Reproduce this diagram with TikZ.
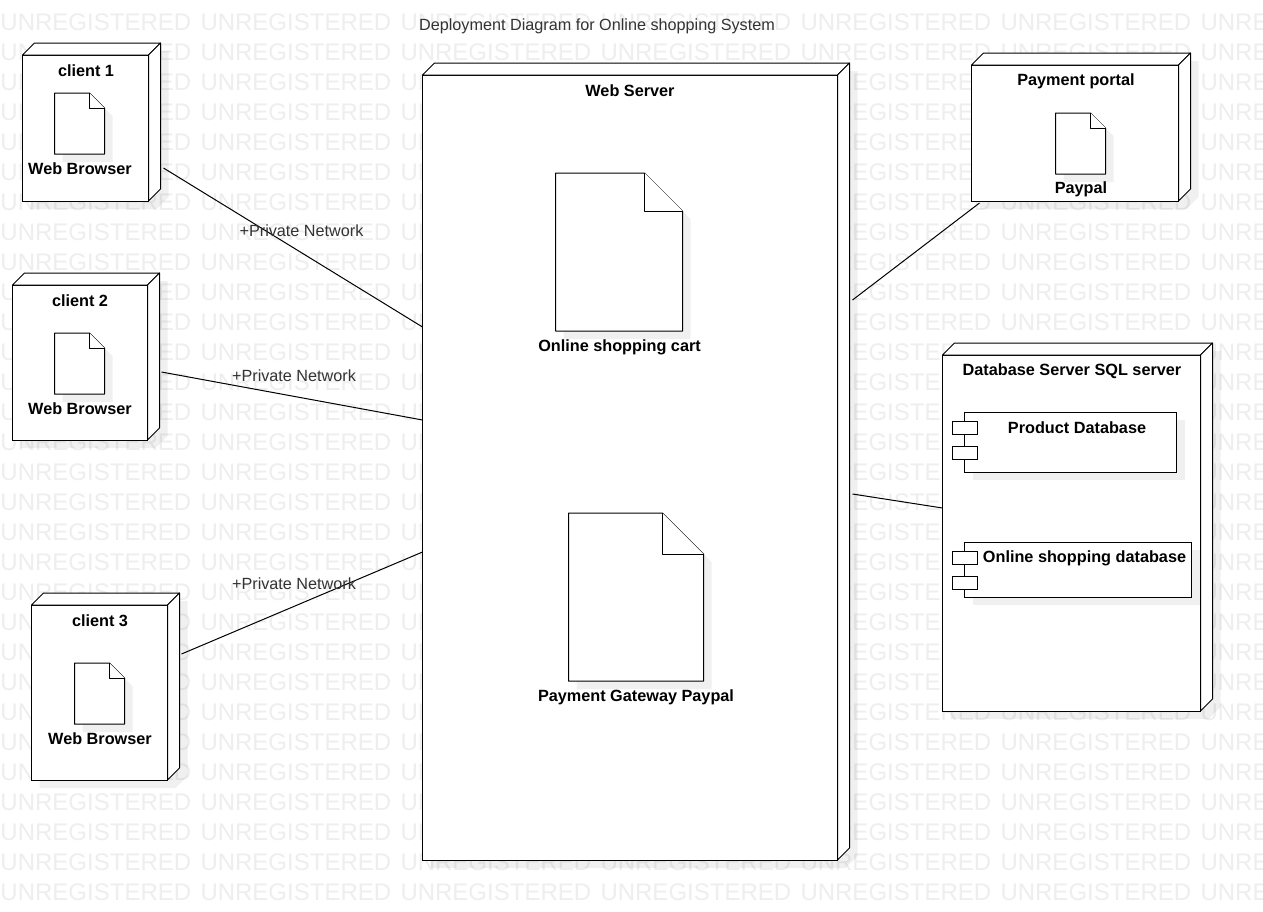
\documentclass[tikz,border=0pt]{standalone}
\usepackage{fontspec}
\setmainfont{Liberation Sans}
\usetikzlibrary{calc, positioning}
\definecolor{wmgray}{RGB}{238,238,238}
\definecolor{inkgray}{RGB}{51,51,51}
\tikzset{
    devnode/.style={draw=black, fill=white, line width=1pt, inner sep=0pt, outer sep=0pt, anchor=north west},
    docnode/.style={inner sep=0pt, outer sep=0pt, anchor=north west},
    portnode/.style={draw=black, fill=white, line width=1pt, inner sep=0pt, outer sep=0pt, anchor=north west,
      minimum width=25pt, minimum height=13pt},
    softshadow/.style={fill=black, opacity=0.06},
    devline/.style={draw=black, fill=white, line width=1pt, line join=round},
    devlabel/.style={inner sep=0pt, yshift=-1pt, font=\fontsize{16.25}{19}\selectfont\bfseries},
    netlabel/.style={inner sep=0pt, yshift=-1pt, text=inkgray, font=\fontsize{16.2}{19}\selectfont},
    netlink/.style={draw=black, line width=1pt},
    watermark/.style={inner sep=0pt, anchor=base west, text=wmgray, font=\fontsize{24}{28}\selectfont},
}
\newcommand{\devbox}[5]{
    \fill[softshadow] (#2+8,#3+8) -- ++(12,-12) -- ++(#4,0) -- ++(0,#5) -- ++(-12,12) -- ++(-#4,0) -- cycle;
    \node[devnode, minimum width=#4pt, minimum height=#5pt] (#1) at (#2,#3) {};
    \draw[devline] (#1.north west) -- ++(12,-12) -- ++(#4,0) -- (#1.north east) -- cycle;
    \draw[devline] (#1.north east) -- ++(12,-12) -- ++(0,#5) -- (#1.south east) -- cycle;
}
\newcommand{\docbox}[6]{
    \fill[softshadow] (#2+8,#3+8) -- ++(#4-#6,0) -- ++(#6,#6) -- ++(0,#5-#6) -- ++(-#4,0) -- cycle;
    \node[docnode, minimum width=#4pt, minimum height=#5pt] (#1) at (#2,#3) {};
    \draw[devline] (#1.north west) -- ++(#4-#6,0) -- ++(#6,#6) -- (#1.south east) -- (#1.south west) -- cycle;
    \draw[devline] (#2+#4-#6,#3) -- ++(0,#6) -- ++(#6,0);
}
\newcommand{\compbox}[7]{
    \fill[softshadow] (#2+8,#3+8) rectangle ++(#4,#5);
    \node[devnode, minimum width=#4pt, minimum height=#5pt] (#1) at (#2,#3) {};
    \node[portnode] (#1a) at (#2-12.5,#6) {};
    \node[portnode] (#1b) at (#2-12.5,#7) {};
}
\begin{document}
\begin{tikzpicture}[x=1pt, y=-1pt]
    \useasboundingbox (0,0) rectangle (1263,911);
    \fill[white] (0,0) rectangle (1263,911);
    \begin{scope}
      \clip (0,0) rectangle (1263,911);
      \foreach \wy in {0,...,29}
        \foreach \wx in {0,...,6}
          \node[watermark] (wm\wy-\wx) at (200*\wx+0.3,30.5+30*\wy) {UNREGISTERED};
    \end{scope}

    \node[netlabel] (title) at (597,25) {Deployment Diagram for Online shopping System};

    \begin{scope}[xshift=-0.5pt]
    \devbox{client1}{23}{55}{126}{146}
    \devbox{client2}{13}{285}{135}{155}
    \devbox{client3}{32}{605}{136}{175}
    \devbox{webserver}{423}{75}{415}{785}
    \devbox{portal}{972}{65}{207}{136}
    \devbox{dbserver}{943}{355}{258}{356}

    \docbox{browser1}{55}{93}{50}{61}{15}
    \docbox{browser2}{55}{333}{50}{61}{15}
    \docbox{browser3}{75}{663}{50}{61}{15}
    \docbox{paypal}{1056}{113}{50}{61}{15}
    \docbox{cart}{556}{173}{127}{158}{38}
    \docbox{gateway}{569}{513}{135}{168}{41}

    \compbox{proddb}{965}{412}{212}{60}{421}{446}
    \compbox{shopdb}{965}{542}{227}{55}{551}{576}
    \end{scope}

    \node[devlabel] (client1label) at (86,70) {client 1};
    \node[devlabel] (browser1label) at (80,168) {Web Browser};
    \node[devlabel] (client2label) at (80,300) {client 2};
    \node[devlabel] (browser2label) at (80,408) {Web Browser};
    \node[devlabel] (client3label) at (100,620) {client 3};
    \node[devlabel] (browser3label) at (100,738) {Web Browser};
    \node[devlabel] (webserverlabel) at (630,90) {Web Server};
    \node[devlabel] (cartlabel) at (619.5,346) {Online shopping cart};
    \node[devlabel] (gatewaylabel) at (636,696) {Payment Gateway Paypal};
    \node[devlabel] (portallabel) at (1076,80) {Payment portal};
    \node[devlabel] (paypallabel) at (1081,188) {Paypal};
    \node[devlabel] (dbserverlabel) at (1072,370) {Database Server SQL server};
    \node[devlabel] (proddblabel) at (1077,427) {Product Database};
    \node[devlabel] (shopdblabel) at (1084.5,557) {Online shopping database};

    \draw[netlink] ($(client1.east)+(15,40)$) -- ($(webserver.west)+(0,-140.5)$);
    \draw[netlink] ($(client2.east)+(14,9.5)$) -- ($(webserver.west)+(0,-47.5)$);
    \draw[netlink] ($(client3.east)+(14,-38.5)$) -- ($(webserver.west)+(0,84.5)$);
    \draw[netlink] ($(webserver.east)+(15,-167.5)$) -- ($(portal.south west)+(8,2)$);
    \draw[netlink] ($(webserver.east)+(15,26.5)$) -- ($(dbserver.west)+(0,-25)$);

    \node[netlabel] (net1) at (301.5,230) {+Private Network};
    \node[netlabel] (net2) at (294,375) {+Private Network};
    \node[netlabel] (net3) at (294,583) {+Private Network};
\end{tikzpicture}
\end{document}
